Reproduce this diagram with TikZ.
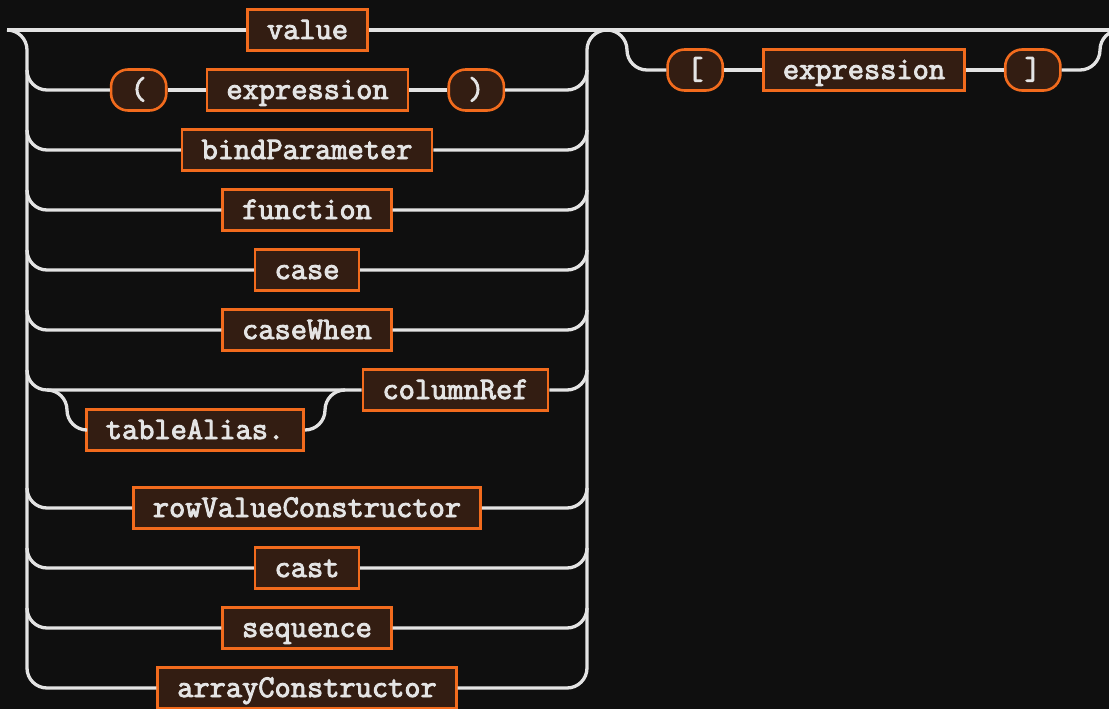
\documentclass[tikz,border=0pt]{standalone}
\usepackage{fontspec}
\setmonofont{Latin Modern Mono}[AutoFakeBold=3]
\usetikzlibrary{positioning}
\definecolor{railbg}{RGB}{15,15,15}
\definecolor{railline}{RGB}{227,227,227}
\definecolor{boxfill}{RGB}{51,29,18}
\definecolor{boxedge}{RGB}{242,107,29}
\definecolor{boxtext}{RGB}{228,228,228}

\begin{document}
\begin{tikzpicture}[
    x=1pt, y=1pt,
    node distance=38pt,
    nonterm/.style={rectangle, draw=boxedge, fill=boxfill, line width=2.6pt, minimum height=41pt, inner xsep=19.5pt, inner ysep=0pt, text height=19pt, text depth=1pt, text=boxtext, font=\fontsize{31.5}{33}\selectfont\ttfamily\bfseries},
    term/.style={nonterm, rounded corners=17pt},
    rail/.style={draw=railline, line width=3.3pt}
]
\fill[railbg] (0,0) rectangle (1109,-709);
\useasboundingbox (0,0) rectangle (1109,-709);

% Choice branches
\node[nonterm] (value) at (307.5,-30) {value};
\node[nonterm] (expr) at (307.5,-90) {expression};
\node[term, left=of expr] (lparen) {(};
\node[term, right=of expr] (rparen) {)};
\node[nonterm] (bindParam) at (307,-150) {bindParameter};
\node[nonterm] (function) at (307,-210) {function};
\node[nonterm] (case) at (307,-270) {case};
\node[nonterm] (caseWhen) at (307,-330) {caseWhen};
\node[nonterm] (columnRef) at (455.5,-390) {columnRef};
\node[nonterm] (tableAlias) at (195,-430) {tableAlias.};
\node[nonterm] (rowValue) at (307,-508) {rowValueConstructor};
\node[nonterm] (cast) at (307,-568) {cast};
\node[nonterm] (sequence) at (307,-628) {sequence};
\node[nonterm] (arrayCons) at (307,-688) {arrayConstructor};

% Optional subscript
\node[nonterm] (subExpr) at (864,-70) {expression};
\node[term, left=of subExpr] (lbrack) {[};
\node[term, right=of subExpr] (rbrack) {]};

\coordinate (start) at (7,-30);
\coordinate (join) at (607,-30);
\coordinate (finish) at (1120,-30);
\coordinate (aliasSkip) at (47,-390);
\coordinate (aliasJoin) at (344,-390);

% Main line
\draw[rail] (start) -- (value.west);
\draw[rail] (value.east) -- (join) -- (finish);

% Left and right rails
\draw[rail] (start) arc[start angle=90, end angle=0, radius=20] -- (27,-668);
\draw[rail] (587,-668) -- (587,-50) arc[start angle=180, end angle=90, radius=20];

% Branch connectors
\foreach \n/\y in {lparen/90, bindParam/150, function/210, case/270, caseWhen/330, rowValue/508, cast/568, sequence/628, arrayCons/688}
  \draw[rail] (27,{20-\y}) arc[start angle=180, end angle=270, radius=20] -- (\n.west);
\foreach \n/\y in {rparen/90, bindParam/150, function/210, case/270, caseWhen/330, columnRef/390, rowValue/508, cast/568, sequence/628, arrayCons/688}
  \draw[rail] (\n.east) -- (567,-\y) arc[start angle=270, end angle=360, radius=20];
\draw[rail] (lparen) -- (expr);
\draw[rail] (expr) -- (rparen);

% Optional table alias
\draw[rail] (27,-370) arc[start angle=180, end angle=270, radius=20] -- (aliasJoin) -- (columnRef.west);
\draw[rail] (aliasSkip) arc[start angle=90, end angle=0, radius=20] arc[start angle=180, end angle=270, radius=20] -- (tableAlias.west);
\draw[rail] (tableAlias.east) arc[start angle=270, end angle=360, radius=20] arc[start angle=180, end angle=90, radius=20] -- (aliasJoin);

% Subscript rails
\draw[rail] (join) arc[start angle=90, end angle=0, radius=20] arc[start angle=180, end angle=270, radius=20] -- (lbrack.west);
\draw[rail] (lbrack) -- (subExpr);
\draw[rail] (subExpr) -- (rbrack);
\draw[rail] (rbrack.east) -- (1080,-70) arc[start angle=270, end angle=360, radius=20] arc[start angle=180, end angle=90, radius=20] -- (finish);

\end{tikzpicture}
\end{document}
